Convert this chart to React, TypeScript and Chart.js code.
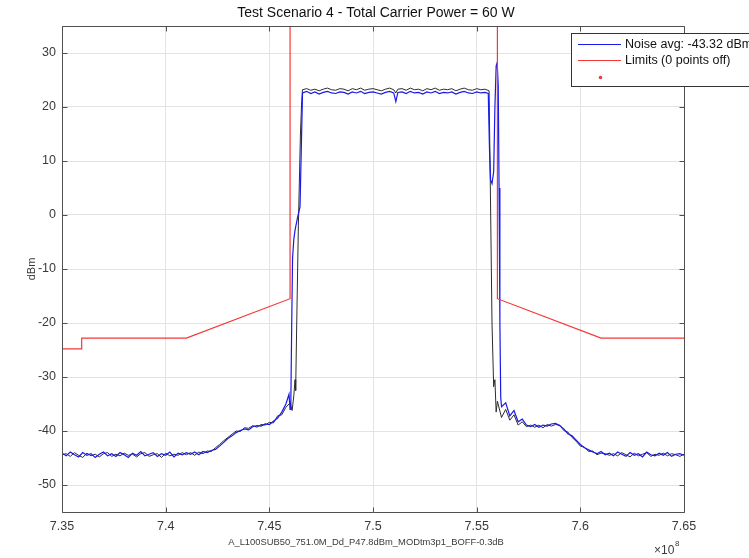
import React, { useEffect, useRef } from 'react';
import { Chart, registerables } from 'chart.js';

Chart.register(...registerables);

// ---------- Data (frequency in units of 1e8 Hz, level in dBm) ----------
const chartTitle = 'Test Scenario 4 - Total Carrier Power = 60 W';
const xAxisTitle = 'A_L100SUB50_751.0M_Dd_P47.8dBm_MODtm3p1_BOFF-0.3dB';
const yAxisTitle = 'dBm';
const legendNoise = 'Noise avg: -43.32 dBm';
const legendLimits = 'Limits (0 points off)';

const xTickValues = [7.35, 7.4, 7.45, 7.5, 7.55, 7.6, 7.65];
const xTickLabels = ['7.35', '7.4', '7.45', '7.5', '7.55', '7.6', '7.65'];
const yTickValues = [-50, -40, -30, -20, -10, 0, 10, 20, 30];
const yTickLabels = ['-50', '-40', '-30', '-20', '-10', '0', '10', '20', '30'];

const freqLeft = [
  7.350, 7.352, 7.354, 7.356, 7.358, 7.360, 7.362, 7.364, 7.366, 7.368,
  7.370, 7.372, 7.374, 7.376, 7.378, 7.380, 7.382, 7.384, 7.386, 7.388,
  7.390, 7.392, 7.394, 7.396, 7.398, 7.400, 7.402, 7.404, 7.406, 7.408,
  7.410, 7.412, 7.414, 7.416, 7.418, 7.420, 7.422, 7.424, 7.426, 7.428,
  7.430, 7.432, 7.434, 7.436, 7.438, 7.440, 7.442, 7.444, 7.446, 7.448,
  7.450, 7.452, 7.454, 7.456, 7.458,
];
const blueLeft = [
  -44.1, -44.6, -43.9, -44.4, -44.8, -44.0, -44.5, -44.2, -44.9, -44.3,
  -43.9, -44.6, -44.2, -44.7, -44.0, -44.4, -44.9, -44.1, -44.5, -43.8,
  -44.6, -44.3, -44.0, -44.7, -44.2, -44.5, -43.9, -44.8, -44.1, -44.4,
  -44.0, -44.3, -43.9, -44.4, -43.8, -44.0, -43.6, -43.4, -42.8, -42.1,
  -41.4, -40.9, -40.3, -39.9, -39.6, -39.8, -39.2, -39.0, -39.1, -38.7,
  -38.8, -38.2, -37.6, -36.5, -35.0,
];
const blackLeft = [
  -44.4, -44.2, -44.7, -44.0, -44.5, -44.9, -44.1, -44.6, -44.3, -44.8,
  -44.2, -44.0, -44.7, -44.3, -44.6, -44.1, -44.5, -44.3, -44.8, -44.2,
  -44.0, -44.7, -44.4, -44.2, -44.9, -44.1, -44.6, -44.3, -44.5, -44.0,
  -44.4, -44.0, -44.5, -43.9, -44.2, -43.7, -43.8, -43.1, -42.5, -41.8,
  -41.2, -40.6, -40.0, -40.1, -39.4, -39.5, -39.0, -39.3, -38.8, -38.9,
  -38.4, -38.5, -37.2, -37.0, -35.6,
];

const blueEdgeLFreq = [7.4595, 7.4600, 7.4604, 7.4608, 7.4612, 7.4618, 7.4624, 7.4636, 7.4648, 7.4654, 7.4660];
const blueEdgeLDbm = [-33.2, -36.0, -34.0, -20.0, -8.0, -4.5, -2.8, -0.5, 1.5, 12.0, 22.6];
const blackEdgeLFreq = [7.4600, 7.4610, 7.4618, 7.4624, 7.4627, 7.4630, 7.4640, 7.4650, 7.4656];
const blackEdgeLDbm = [-34.8, -36.2, -33.5, -30.5, -32.5, -25.0, -2.0, 15.0, 21.0];

const freqTop = [
  7.466, 7.468, 7.470, 7.472, 7.474, 7.476, 7.478, 7.480, 7.482, 7.484,
  7.486, 7.488, 7.490, 7.492, 7.494, 7.496, 7.498, 7.500, 7.502, 7.504,
  7.506, 7.508, 7.510, 7.511, 7.512, 7.514, 7.516, 7.518, 7.520, 7.522,
  7.524, 7.526, 7.528, 7.530, 7.532, 7.534, 7.536, 7.538, 7.540, 7.542,
  7.544, 7.546, 7.548, 7.550, 7.552, 7.554,
];
const blueTop = [
  22.6, 22.9, 22.5, 22.8, 22.4, 22.7, 22.9, 22.6, 22.5, 22.8,
  22.7, 22.4, 22.8, 22.6, 22.9, 22.5, 22.7, 22.8, 22.6, 22.4,
  22.7, 22.9, 22.6, 21.0, 22.7, 22.8, 22.5, 22.9, 22.6, 22.7,
  22.4, 22.8, 22.6, 22.9, 22.5, 22.7, 22.6, 22.8, 22.4, 22.7,
  22.9, 22.6, 22.5, 22.8, 22.6, 22.7,
];
const blackTop = [
  23.2, 23.4, 23.1, 23.3, 23.0, 23.3, 23.5, 23.2, 23.1, 23.4,
  23.3, 23.0, 23.4, 23.2, 23.5, 23.1, 23.3, 23.4, 23.2, 23.0,
  23.3, 23.5, 23.2, 22.6, 23.3, 23.4, 23.1, 23.5, 23.2, 23.3,
  23.0, 23.4, 23.2, 23.5, 23.1, 23.3, 23.2, 23.4, 23.0, 23.3,
  23.5, 23.2, 23.1, 23.4, 23.2, 23.3,
];

const blueEdgeRFreq = [7.5556, 7.5562, 7.5567, 7.5574, 7.5582, 7.5588, 7.5594, 7.5599, 7.5604, 7.5608, 7.5612, 7.5616];
const blueEdgeRDbm = [22.5, 12.0, 6.5, 5.8, 8.0, 20.0, 27.6, 28.2, 24.0, 5.0, -20.0, -33.8];
const blackEdgeRFreq = [7.5560, 7.5566, 7.5574, 7.5582, 7.5588, 7.5594, 7.5600];
const blackEdgeRDbm = [23.0, 5.0, -20.0, -31.8, -30.5, -36.5, -34.5];

const freqRight = [
  7.562, 7.564, 7.566, 7.568, 7.570, 7.572, 7.574, 7.576, 7.578, 7.580,
  7.582, 7.584, 7.586, 7.588, 7.590, 7.592, 7.594, 7.596, 7.598, 7.600,
  7.602, 7.604, 7.606, 7.608, 7.610, 7.612, 7.614, 7.616, 7.618, 7.620,
  7.622, 7.624, 7.626, 7.628, 7.630, 7.632, 7.634, 7.636, 7.638, 7.640,
  7.642, 7.644, 7.646, 7.648, 7.650,
];
const blueRight = [
  -35.5, -34.8, -37.2, -36.2, -38.3, -37.8, -38.9, -39.2, -38.8, -39.3,
  -38.9, -39.1, -38.7, -38.6, -39.0, -39.6, -40.5, -40.9, -41.7, -42.5,
  -43.1, -43.5, -43.9, -44.2, -43.8, -44.4, -44.1, -44.6, -43.9, -44.3,
  -44.7, -44.0, -44.5, -44.2, -44.8, -43.9, -44.4, -44.6, -44.1, -44.5,
  -44.0, -44.7, -44.3, -44.2, -44.5,
];
const blackRight = [
  -37.5, -36.0, -38.0, -37.0, -38.9, -38.3, -39.2, -38.9, -39.3, -38.9,
  -39.4, -38.8, -39.1, -38.8, -38.9, -39.9, -40.2, -41.2, -41.9, -42.8,
  -43.0, -43.8, -43.7, -44.4, -44.1, -44.2, -44.5, -44.2, -44.6, -44.0,
  -44.4, -44.8, -44.1, -44.6, -44.3, -44.0, -44.7, -44.3, -44.5, -44.1,
  -44.6, -44.2, -44.4, -44.7, -44.3,
];

const limitFreq = [7.35, 7.3595, 7.3595, 7.41, 7.46, 7.46, 7.56, 7.56, 7.61, 7.65];
const limitDbm = [-24.8, -24.8, -22.8, -22.8, -15.5, 80, 80, -15.5, -22.8, -22.8];

// ---------- Styling ----------
const FONT = '"Liberation Sans", Arial, Helvetica, sans-serif';
const BLUE = 'rgb(25,25,235)';
const BLACK = 'rgb(45,45,45)';
const RED = 'rgb(245,55,55)';
const AXIS = '#505050';
const TEXT = '#3a3a3a';

const toPts = (fs: number[], vs: number[]) => fs.map((f, i) => ({ x: f, y: vs[i] }));

const framePlugin = {
  id: 'matlabFrame',
  afterDraw(chart: any) {
    const { ctx, chartArea: a, scales } = chart;
    const L = Math.round(a.left) + 0.5;
    const R = Math.round(a.right) + 0.5;
    const T = Math.round(a.top) + 0.5;
    const B = Math.round(a.bottom) + 0.5;
    ctx.save();
    ctx.strokeStyle = AXIS;
    ctx.lineWidth = 1;
    ctx.beginPath();
    ctx.rect(L, T, R - L, B - T);
    ctx.stroke();
    ctx.beginPath();
    xTickValues.forEach((v) => {
      const px = Math.round(scales.x.getPixelForValue(v)) + 0.5;
      ctx.moveTo(px, B); ctx.lineTo(px, B - 5);
      ctx.moveTo(px, T); ctx.lineTo(px, T + 5);
    });
    yTickValues.forEach((v) => {
      const py = Math.round(scales.y.getPixelForValue(v)) + 0.5;
      ctx.moveTo(L, py); ctx.lineTo(L + 5, py);
      ctx.moveTo(R, py); ctx.lineTo(R - 5, py);
    });
    ctx.stroke();

    // title
    ctx.fillStyle = '#111';
    ctx.font = `14px ${FONT}`;
    ctx.textAlign = 'center';
    ctx.textBaseline = 'middle';
    ctx.fillText(chartTitle, 376, 13);

    // x axis title
    ctx.fillStyle = TEXT;
    ctx.font = `9.4px ${FONT}`;
    ctx.fillText(xAxisTitle, 366, 542);

    // exponent
    ctx.font = `12px ${FONT}`;
    ctx.textAlign = 'left';
    ctx.textBaseline = 'alphabetic';
    ctx.fillText('\u00d710', 654, 554);
    ctx.font = `8px ${FONT}`;
    ctx.fillText('8', 675, 546);

    // y axis title
    ctx.save();
    ctx.translate(32, (a.top + a.bottom) / 2);
    ctx.rotate(-Math.PI / 2);
    ctx.font = `11px ${FONT}`;
    ctx.textAlign = 'center';
    ctx.textBaseline = 'middle';
    ctx.fillText(yAxisTitle, 0, 0);
    ctx.restore();

    // legend
    const lx = 571.5, ly = 33.5, lw = 200, lh = 53;
    ctx.fillStyle = '#ffffff';
    ctx.fillRect(lx, ly, lw, lh);
    ctx.strokeStyle = '#333';
    ctx.strokeRect(lx, ly, lw, lh);
    ctx.lineWidth = 1.2;
    ctx.strokeStyle = BLUE;
    ctx.beginPath(); ctx.moveTo(578, 44.5); ctx.lineTo(621, 44.5); ctx.stroke();
    ctx.strokeStyle = RED;
    ctx.beginPath(); ctx.moveTo(578, 60.5); ctx.lineTo(621, 60.5); ctx.stroke();
    ctx.fillStyle = RED;
    ctx.beginPath(); ctx.arc(600.5, 77.5, 1.8, 0, Math.PI * 2); ctx.fill();
    ctx.fillStyle = '#111';
    ctx.font = `12.5px ${FONT}`;
    ctx.textAlign = 'left';
    ctx.textBaseline = 'middle';
    ctx.fillText(legendNoise, 625, 44.5);
    ctx.fillText(legendLimits, 625, 60.5);
    ctx.restore();
  },
};

export default function App() {
  const ref = useRef<HTMLCanvasElement>(null);

  useEffect(() => {
    const canvas = ref.current;
    if (!canvas) return;
    const bluePts = [
      ...toPts(freqLeft, blueLeft),
      ...toPts(blueEdgeLFreq, blueEdgeLDbm),
      ...toPts(freqTop, blueTop),
      ...toPts(blueEdgeRFreq, blueEdgeRDbm),
      ...toPts(freqRight, blueRight),
    ];
    const blackPts = [
      ...toPts(freqLeft, blackLeft),
      ...toPts(blackEdgeLFreq, blackEdgeLDbm),
      ...toPts(freqTop, blackTop),
      ...toPts(blackEdgeRFreq, blackEdgeRDbm),
      ...toPts(freqRight, blackRight),
    ];
    const limitPts = toPts(limitFreq, limitDbm);

    const chart = new Chart(canvas, {
      type: 'line',
      data: {
        datasets: [
          {
            label: 'Limits',
            data: limitPts,
            borderColor: RED,
            borderWidth: 1.2,
            pointRadius: 0,
            tension: 0,
            order: 0,
          },
          {
            label: 'Noise',
            data: bluePts,
            borderColor: BLUE,
            borderWidth: 1.2,
            pointRadius: 0,
            tension: 0,
            order: 1,
          },
          {
            label: 'Trace',
            data: blackPts,
            borderColor: BLACK,
            borderWidth: 1,
            pointRadius: 0,
            tension: 0,
            order: 2,
          },
        ],
      },
      options: {
        responsive: false,
        animation: false,
        devicePixelRatio: 1,
        layout: { padding: { left: 0, top: 26, right: 65, bottom: 0 } },
        plugins: {
          legend: { display: false },
          title: { display: false },
          tooltip: { enabled: false },
        },
        scales: {
          x: {
            type: 'linear',
            min: 7.35,
            max: 7.65,
            afterFit: (s: any) => { s.height = 46; },
            afterBuildTicks: (s: any) => { s.ticks = xTickValues.map((v) => ({ value: v })); },
            grid: { color: '#e3e3e3', drawTicks: false },
            border: { display: false },
            ticks: {
              padding: 7,
              maxRotation: 0,
              autoSkip: false,
              color: TEXT,
              font: { family: FONT, size: 12.5 },
              callback: (_v: any, i: number) => xTickLabels[i],
            },
          },
          y: {
            type: 'linear',
            min: -55,
            max: 35,
            afterFit: (s: any) => { s.width = 62; },
            afterBuildTicks: (s: any) => { s.ticks = yTickValues.map((v) => ({ value: v })); },
            grid: { color: '#e3e3e3', drawTicks: false },
            border: { display: false },
            ticks: {
              padding: 6,
              autoSkip: false,
              color: TEXT,
              font: { family: FONT, size: 12.5 },
              callback: (_v: any, i: number) => yTickLabels[i],
            },
          },
        },
      },
      plugins: [framePlugin],
    } as any);
    return () => chart.destroy();
  }, []);

  return (
    <div style={{ position: 'absolute', left: 0, top: 0, width: 749, height: 558, background: '#fff' }}>
      <canvas ref={ref} width={749} height={558} style={{ width: 749, height: 558, display: 'block' }} />
    </div>
  );
}
